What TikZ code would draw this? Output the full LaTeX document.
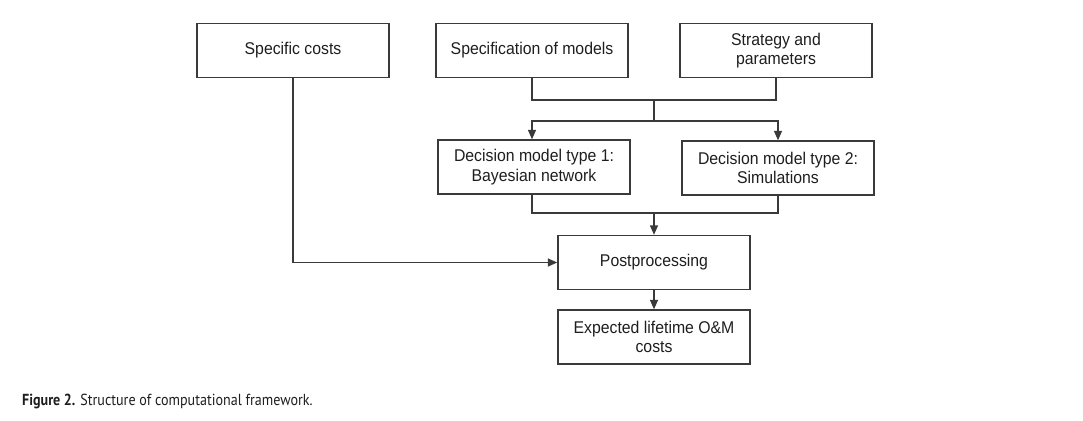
\documentclass[tikz,border=0pt]{standalone}
\usepackage{fontspec}
\setmainfont{Liberation Sans}
\newfontfamily\boxfont[FakeStretch=0.93]{Liberation Sans}
\newfontfamily\capfont[FakeStretch=0.88]{PT Sans}
\usetikzlibrary{arrows.meta}
\definecolor{ln}{HTML}{3A3A3A}
\definecolor{tx}{HTML}{1E1E1E}
\tikzset{
  blk/.style={draw=ln, line width=1.4pt, minimum width=192pt, minimum height=54pt, inner sep=0pt, align=center, font=\boxfont\fontsize{17}{19.5}\selectfont, text=tx},
  wire/.style={draw=ln, line width=1.4pt},
  arr/.style={wire, -{Triangle[length=9.5pt,width=8pt]}}
}
\begin{document}
\begin{tikzpicture}[x=1pt,y=-1pt]
\useasboundingbox (0,0) rectangle (1083,420);
\node[blk] (sc) at (293,50.5) {Specific costs};
\node[blk] (sm) at (532,50.5) {Specification of models};
\node[blk] (sp) at (776,50.5) {Strategy and\\parameters};
\node[blk] (d1) at (534,167) {Decision model type 1:\\Bayesian network};
\node[blk] (d2) at (778,168) {Decision model type 2:\\Simulations};
\node[blk] (pp) at (654,262.5) {Postprocessing};
\node[blk] (ex) at (654,337) {Expected lifetime O\&M\\costs};
\coordinate (j1) at (654,100);
\coordinate (j2) at (654,121);
\coordinate (j3) at (654,213);
\draw[wire] (sm.south) |- (j1) -| (sp.south);
\draw[wire] (j1) -- (j2);
\draw[arr] (j2) -| ([xshift=-2pt]d1.north);
\draw[arr] (j2) -| (d2.north);
\draw[wire] ([xshift=-2pt]d1.south) |- (j3) -| (d2.south);
\draw[arr] (j3) -- (pp.north);
\draw[arr] (sc.south) |- (pp.west);
\draw[arr] (pp.south) -- (ex.north);
\node[anchor=base west, inner sep=0pt, font=\capfont\fontsize{16}{18}\selectfont, text=tx] (cap) at (22,405) {\textbf{Figure 2.} Structure of computational framework.};
\end{tikzpicture}
\end{document}
